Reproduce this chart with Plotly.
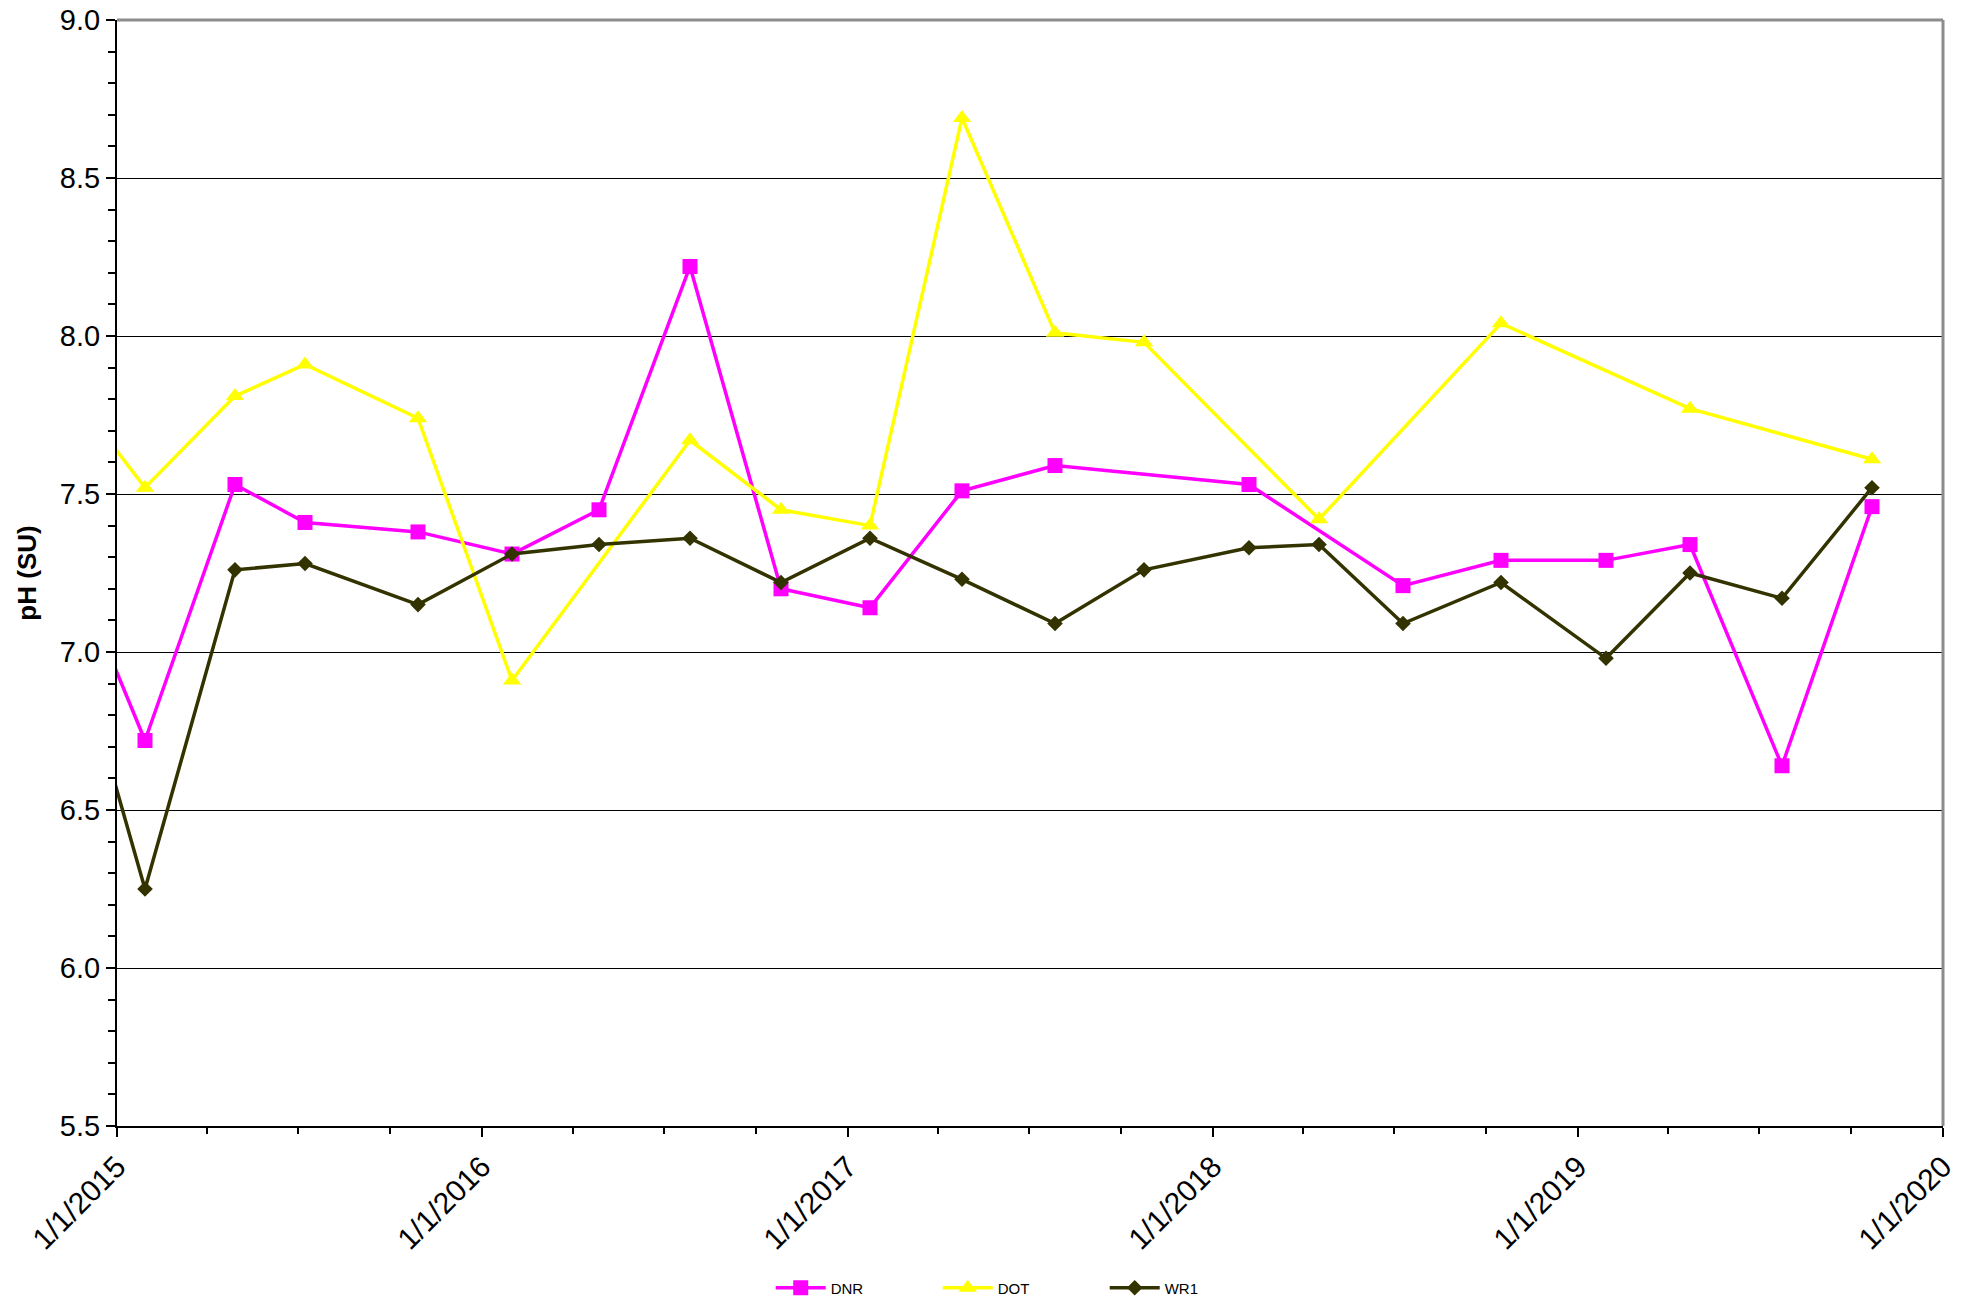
import plotly.graph_objects as go

# Sampling dates (roughly quarterly); None marks a visit with no reading for that source
dates = ["2014-10-22", "2015-01-29", "2015-04-29", "2015-07-08", "2015-10-29",
         "2016-01-31", "2016-04-27", "2016-07-27", "2016-10-26", "2017-01-23",
         "2017-04-25", "2017-07-27", "2017-10-24", "2018-02-06", "2018-04-17",
         "2018-07-10", "2018-10-16", "2019-01-29", "2019-04-23", "2019-07-24",
         "2019-10-22"]

dnr = [7.48, 6.72, 7.53, 7.41, 7.38, 7.31, 7.45, 8.22, 7.20, 7.14, 7.51, 7.59,
       None, 7.53, None, 7.21, 7.29, 7.29, 7.34, 6.64, 7.46]
dot = [7.93, 7.52, 7.81, 7.91, 7.74, 6.91, None, 7.67, 7.45, 7.40, 8.69, 8.01,
       7.98, None, 7.42, None, 8.04, None, 7.77, None, 7.61]
wr1 = [7.35, 6.25, 7.26, 7.28, 7.15, 7.31, 7.34, 7.36, 7.22, 7.36, 7.23, 7.09,
       7.26, 7.33, 7.34, 7.09, 7.22, 6.98, 7.25, 7.17, 7.52]

series = [
    ("DNR", dnr, "#FF00FF", "square", 15),
    ("DOT", dot, "#FFFF00", "triangle-up", 16),
    ("WR1", wr1, "#333300", "diamond", 12),
]

FONT = "Arial, Liberation Sans, sans-serif"

fig = go.Figure()
for name, vals, color, symbol, size in series:
    fig.add_trace(go.Scatter(
        x=dates, y=vals, name=name, mode="lines+markers",
        connectgaps=True,
        line=dict(color=color, width=3.5),
        marker=dict(symbol=symbol, size=size, color=color, line=dict(width=0)),
    ))

fig.update_layout(
    width=1969, height=1300,
    margin=dict(l=117, r=26, t=20, b=174, autoexpand=False),
    paper_bgcolor="white", plot_bgcolor="white",
    font=dict(family=FONT, color="black"),
    showlegend=True,
    legend=dict(
        orientation="h", x=0.358, xanchor="left", y=-0.1465, yanchor="middle",
        font=dict(size=15, family=FONT), entrywidth=102, entrywidthmode="pixels",
        itemwidth=50, bgcolor="rgba(0,0,0,0)",
    ),
    xaxis=dict(
        type="date", range=["2015-01-01", "2020-01-01"], automargin=False,
        tick0="2015-01-01", dtick="M12", tickformat="%-m/%-d/%Y",
        tickangle=-45, tickfont=dict(size=30, family=FONT),
        ticks="outside", ticklen=9, tickwidth=1.5, tickcolor="black",
        showline=True, linecolor="black", linewidth=2,
        showgrid=False, zeroline=False,
        minor=dict(dtick="M3", tick0="2015-01-01", ticks="outside", ticklen=6,
                   tickwidth=1.5, tickcolor="black", showgrid=False),
    ),
    yaxis=dict(
        range=[5.5, 9.0], dtick=0.5, tick0=5.5, tickformat=".1f", automargin=False,
        tickfont=dict(size=29, family=FONT),
        ticks="outside", ticklen=9, tickwidth=1.5, tickcolor="black",
        showline=True, linecolor="black", linewidth=2,
        showgrid=True, gridcolor="black", gridwidth=1, zeroline=False,
        minor=dict(dtick=0.1, ticks="outside", ticklen=7, tickwidth=1.5,
                   tickcolor="black", showgrid=False),
        title=dict(text="<b>pH (SU)</b>", font=dict(size=26, family=FONT),
                   standoff=16),
    ),
)

# Grey frame on the top and right sides of the plotting area
fig.add_shape(type="line", xref="paper", yref="paper", x0=0, x1=1, y0=1, y1=1,
              line=dict(color="#8c8c8c", width=3))
fig.add_shape(type="line", xref="paper", yref="paper", x0=1, x1=1, y0=0, y1=1,
              line=dict(color="#8c8c8c", width=3))

fig.write_html("out.html")
